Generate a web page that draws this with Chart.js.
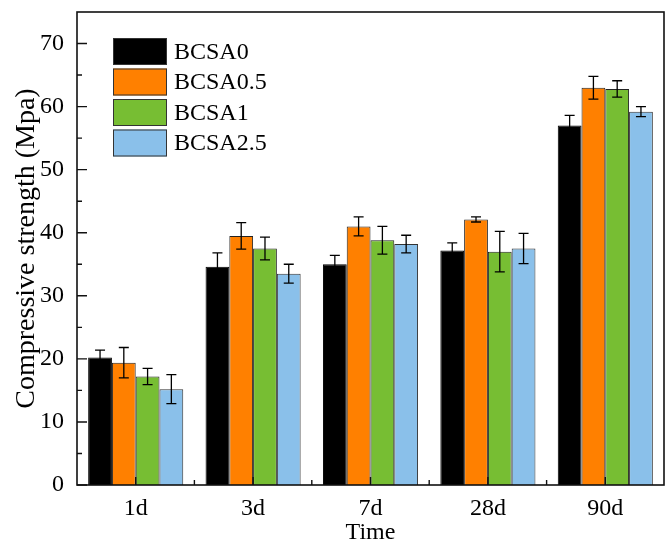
<!DOCTYPE html>
<html><head><meta charset="utf-8">
<script src="https://cdn.jsdelivr.net/npm/chart.js@4.4.1/dist/chart.umd.min.js"></script>
<style>html,body{margin:0;padding:0;background:#fff;}canvas{display:block;}</style>
</head><body>
<canvas id="c" width="671" height="545"></canvas>
<script>
const categories = ['1d', '3d', '7d', '28d', '90d'];
const seriesNames = ['BCSA0', 'BCSA0.5', 'BCSA1', 'BCSA2.5'];
const bcsa0   = [20.2, 34.6, 35.0, 37.2, 57.0];
const bcsa0_5 = [19.4, 39.5, 41.0, 42.1, 63.0];
const bcsa1   = [17.2, 37.5, 38.8, 37.0, 62.8];
const bcsa2_5 = [15.2, 33.5, 38.2, 37.5, 59.2];
const err0    = [1.2, 2.2, 1.4, 1.2, 1.6];
const err0_5  = [2.4, 2.1, 1.5, 0.4, 1.8];
const err1    = [1.3, 1.8, 2.2, 3.2, 1.3];
const err2_5  = [2.3, 1.5, 1.4, 2.4, 0.8];
const yTicks  = [0, 10, 20, 30, 40, 50, 60, 70];
const yMinorTicks = [5, 15, 25, 35, 45, 55, 65];

const colors = ['#000000', '#FF8000', '#77BE33', '#8AC0EA'];
const borders = ['#000000', '#222222', '#222222', '#333333'];
const values = [bcsa0, bcsa0_5, bcsa1, bcsa2_5];
const errors = [err0, err0_5, err1, err2_5];
const FONT = '"Liberation Serif", "Times New Roman", serif';

const extras = {
  id: 'extras',
  afterDatasetsDraw(chart) {
    const ctx = chart.ctx;
    const y = chart.scales.y;
    ctx.save();
    ctx.strokeStyle = '#000';
    ctx.lineWidth = 1.3;
    chart.data.datasets.forEach((ds, di) => {
      const meta = chart.getDatasetMeta(di);
      meta.data.forEach((bar, i) => {
        const v = ds.data[i], e = ds.errors[i];
        const cx = bar.x;
        const yt = y.getPixelForValue(v + e), yb = y.getPixelForValue(v - e);
        ctx.beginPath();
        ctx.moveTo(cx, yt); ctx.lineTo(cx, yb);
        ctx.moveTo(cx - 5, yt); ctx.lineTo(cx + 5, yt);
        ctx.moveTo(cx - 5, yb); ctx.lineTo(cx + 5, yb);
        ctx.stroke();
      });
    });
    ctx.restore();
  },
  afterDraw(chart) {
    const ctx = chart.ctx;
    const a = chart.chartArea;
    const x = chart.scales.x, y = chart.scales.y;
    ctx.save();
    ctx.strokeStyle = '#111';
    ctx.lineWidth = 1.6;
    ctx.strokeRect(a.left, a.top, a.right - a.left, a.bottom - a.top);
    ctx.lineWidth = 1.4;
    ctx.beginPath();
    yTicks.forEach(v => { const p = y.getPixelForValue(v); ctx.moveTo(a.left, p); ctx.lineTo(a.left + 10, p); });
    yMinorTicks.forEach(v => { const p = y.getPixelForValue(v); ctx.moveTo(a.left, p); ctx.lineTo(a.left + 5, p); });
    const cw = (a.right - a.left) / categories.length;
    categories.forEach((c, i) => {
      const p = x.getPixelForValue(i);
      ctx.moveTo(p, a.bottom); ctx.lineTo(p, a.bottom - 8);
      if (i > 0) { ctx.moveTo(p - cw / 2, a.bottom); ctx.lineTo(p - cw / 2, a.bottom - 5); }
    });
    ctx.stroke();
    // legend
    ctx.font = '24px ' + FONT;
    ctx.textBaseline = 'middle';
    ctx.textAlign = 'left';
    chart.data.datasets.forEach((ds, i) => {
      const bx = 113, by = 38 + i * 30.5, bw = 54, bh = 27;
      ctx.fillStyle = ds.backgroundColor;
      ctx.fillRect(bx, by, bw, bh);
      ctx.lineWidth = 1;
      ctx.strokeStyle = '#333';
      ctx.strokeRect(bx + 0.5, by + 0.5, bw - 1, bh - 1);
      ctx.fillStyle = '#000';
      ctx.fillText(ds.label, 174, by + bh / 2 + 1);
    });
    ctx.restore();
  }
};

new Chart(document.getElementById('c'), {
  type: 'bar',
  data: {
    labels: categories,
    datasets: seriesNames.map((n, i) => ({
      label: n,
      data: values[i],
      errors: errors[i],
      backgroundColor: colors[i],
      borderColor: borders[i],
      borderWidth: 1,
      categoryPercentage: 0.81,
      barPercentage: 1.0
    }))
  },
  options: {
    responsive: false,
    animation: false,
    devicePixelRatio: 1,
    layout: { padding: { top: 12, right: 7, left: 0, bottom: 0 } },
    plugins: { legend: { display: false }, tooltip: { enabled: false } },
    scales: {
      x: {
        grid: { display: false, drawTicks: false },
        border: { display: false },
        ticks: { color: '#000', font: { family: FONT, size: 24 }, padding: 9 },
        title: { display: true, text: 'Time', color: '#000', font: { family: FONT, size: 24 }, padding: { top: 0, bottom: -2 } },
        afterFit(s) { s.height = 60; s.paddingLeft = 0; s.paddingRight = 0; }
      },
      y: {
        min: 0, max: 75,
        grid: { display: false, drawTicks: false },
        border: { display: false },
        afterBuildTicks(s) { s.ticks = yTicks.map(v => ({ value: v })); },
        ticks: { color: '#000', font: { family: FONT, size: 24 }, padding: 13 },
        title: { display: true, text: 'Compressive strength (Mpa)', color: '#000', font: { family: FONT, size: 28 }, padding: { top: 10, bottom: 0 } },
        afterFit(s) { s.width = 77; s.paddingTop = 0; s.paddingBottom = 0; }
      }
    }
  },
  plugins: [extras]
});
</script>
</body></html>
